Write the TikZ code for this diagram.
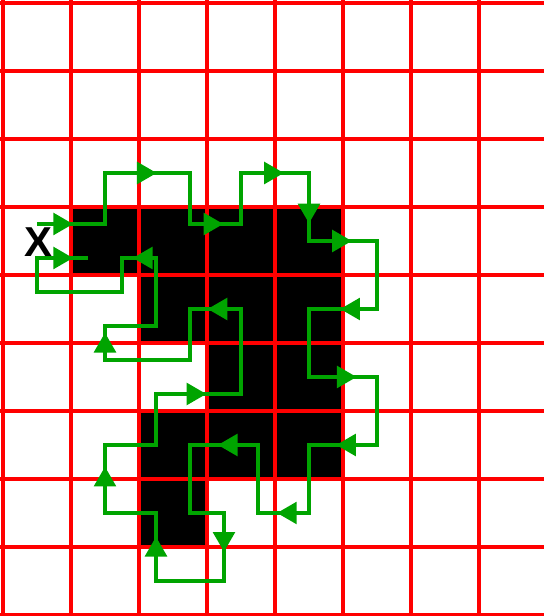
\documentclass[tikz,border=0pt]{standalone}
\usepackage{fontspec}
\newfontfamily\labelfont{Liberation Sans}
\usetikzlibrary{arrows.meta}
\definecolor{gridred}{RGB}{255,0,0}
\definecolor{pathgreen}{RGB}{0,164,0}
\begin{document}
\begin{tikzpicture}[yscale=-1,
    gridline/.style={gridred, line width=2pt},
    gpath/.style={pathgreen, line width=1.45pt},
    garrow/.style={pathgreen, line width=1.45pt, -{Triangle[length=0.29cm, width=0.32cm]}}]
    \useasboundingbox (-0.044,-0.044) rectangle (7.956,9.015);

    % Filled cells
    \fill (1,3) rectangle (5,4);
    \fill (2,4) rectangle (5,5);
    \fill (3,5) rectangle (5,6);
    \fill (2,6) rectangle (5,7);
    \fill (2,7) rectangle (3,8);

    % Grid
    \foreach \x in {0,...,8} \draw[gridline] (\x,-0.5) -- (\x,9.5);
    \foreach \y in {0,...,9} \draw[gridline] (-0.5,\y) -- (8.5,\y);

    % Start label
    \node[font=\labelfont\bfseries\fontsize{17.5}{18}\selectfont, inner sep=0pt] (xlabel) at (0.52,3.515) {X};

    % Walk round the shape
    \draw[gpath] (0.5,3.25) -- (1.5,3.25) -- (1.5,2.5) -- (2.75,2.5) -- (2.75,3.25)
        -- (3.5,3.25) -- (3.5,2.5) -- (4.5,2.5) -- (4.5,3.5) -- (5.5,3.5)
        -- (5.5,4.5) -- (4.5,4.5) -- (4.5,5.5) -- (5.5,5.5) -- (5.5,6.5)
        -- (4.5,6.5) -- (4.5,7.5) -- (3.75,7.5) -- (3.75,6.5) -- (2.75,6.5)
        -- (2.75,7.5) -- (3.25,7.5) -- (3.25,8.5) -- (2.25,8.5) -- (2.25,7.5)
        -- (1.5,7.5) -- (1.5,6.5) -- (2.25,6.5) -- (2.25,5.75) -- (3.5,5.75)
        -- (3.5,4.5) -- (2.75,4.5) -- (2.75,5.25) -- (1.5,5.25) -- (1.5,4.75)
        -- (2.25,4.75) -- (2.25,3.75) -- (1.75,3.75) -- (1.75,4.25) -- (0.5,4.25)
        -- (0.5,3.75) -- (1.25,3.75);

    % Direction arrows
    \draw[garrow] (0.73,3.25) -- (1.03,3.25);
    \draw[garrow] (1.99,2.5) -- (2.26,2.5);
    \draw[garrow] (2.97,3.25) -- (3.24,3.25);
    \draw[garrow] (3.85,2.5) -- (4.13,2.5);
    \draw[garrow] (4.5,2.94) -- (4.5,3.24);
    \draw[garrow] (4.85,3.5) -- (5.13,3.5);
    \draw[garrow] (5.22,4.5) -- (4.96,4.5);
    \draw[garrow] (4.93,5.5) -- (5.2,5.5);
    \draw[garrow] (5.16,6.5) -- (4.9,6.5);
    \draw[garrow] (4.29,7.5) -- (4.03,7.5);
    \draw[garrow] (3.43,6.5) -- (3.16,6.5);
    \draw[garrow] (3.25,7.8) -- (3.25,8.07);
    \draw[garrow] (2.25,8.12) -- (2.25,7.85);
    \draw[garrow] (1.5,7.08) -- (1.5,6.82);
    \draw[garrow] (2.72,5.75) -- (2.99,5.75);
    \draw[garrow] (3.29,4.5) -- (3.01,4.5);
    \draw[garrow] (1.5,5.13) -- (1.5,4.85);
    \draw[garrow] (2.23,3.75) -- (1.91,3.75);
    \draw[garrow] (0.73,3.75) -- (1.03,3.75);
\end{tikzpicture}
\end{document}
